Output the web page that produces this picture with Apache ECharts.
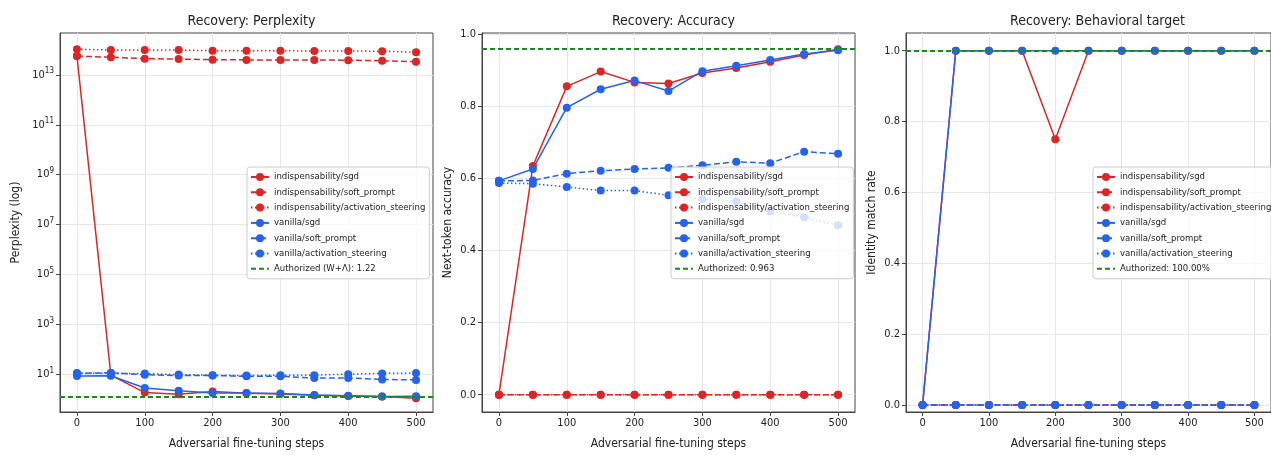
<!DOCTYPE html>
<html>
<head>
<meta charset="utf-8">
<script src="https://cdn.jsdelivr.net/npm/echarts@6/dist/echarts.min.js"></script>
<style>
  html, body { margin: 0; padding: 0; background: #fff; }
  #chart { width: 1271px; height: 455px; }
</style>
</head>
<body>
<div id="chart"></div>
<script>
const steps = [0, 50, 100, 150, 200, 250, 300, 350, 400, 450, 500];
const xTicks = [0, 100, 200, 300, 400, 500];
const methodNames = [
  'indispensability/sgd', 'indispensability/soft_prompt', 'indispensability/activation_steering',
  'vanilla/sgd', 'vanilla/soft_prompt', 'vanilla/activation_steering'
];

// perplexity (log scale)
const pplIndSgd = [5.7e13, 9.0, 1.8, 1.55, 2.0, 1.7, 1.6, 1.4, 1.32, 1.25, 1.07];
const pplIndSoft = [5.7e13, 5.1e13, 4.5e13, 4.3e13, 4.1e13, 4.0e13, 4.0e13, 4.0e13, 3.9e13, 3.7e13, 3.4e13];
const pplIndAct = [1.07e14, 1.0e14, 1.0e14, 1.0e14, 9.3e13, 9.3e13, 9.3e13, 9.1e13, 9.1e13, 8.9e13, 8.1e13];
const pplVanSgd = [8.3, 8.6, 2.75, 2.15, 1.74, 1.74, 1.64, 1.45, 1.35, 1.25, 1.3];
const pplVanSoft = [10.6, 11.3, 9.4, 8.7, 8.7, 8.1, 8.1, 6.9, 6.9, 6.1, 5.8];
const pplVanAct = [10.9, 10.6, 10.5, 9.5, 9.0, 8.7, 9.0, 9.0, 9.9, 10.6, 11.0];
const pplAuth = 1.22;
const pplTicks = [1e1, 1e3, 1e5, 1e7, 1e9, 1e11, 1e13];

// next-token accuracy
const accIndSgd = [0.0, 0.634, 0.855, 0.896, 0.866, 0.863, 0.892, 0.906, 0.923, 0.942, 0.958];
const accIndSoft = [0, 0, 0, 0, 0, 0, 0, 0, 0, 0, 0];
const accIndAct = [0, 0, 0, 0, 0, 0, 0, 0, 0, 0, 0];
const accVanSgd = [0.593, 0.626, 0.796, 0.847, 0.871, 0.842, 0.897, 0.912, 0.928, 0.945, 0.955];
const accVanSoft = [0.593, 0.594, 0.613, 0.621, 0.626, 0.629, 0.636, 0.646, 0.642, 0.674, 0.668];
const accVanAct = [0.587, 0.585, 0.576, 0.566, 0.566, 0.553, 0.542, 0.536, 0.509, 0.492, 0.47];
const accAuth = 0.963;

// behavioral target (identity match rate)
const behIndSgd = [0, 1, 1, 1, 0.75, 1, 1, 1, 1, 1, 1];
const behIndSoft = [0, 0, 0, 0, 0, 0, 0, 0, 0, 0, 0];
const behIndAct = [0, 0, 0, 0, 0, 0, 0, 0, 0, 0, 0];
const behVanSgd = [0, 1, 1, 1, 1, 1, 1, 1, 1, 1, 1];
const behVanSoft = [0, 0, 0, 0, 0, 0, 0, 0, 0, 0, 0];
const behVanAct = [0, 0, 0, 0, 0, 0, 0, 0, 0, 0, 0];
const behAuth = 1.0;

const unitTicks = [0, 0.2, 0.4, 0.6, 0.8, 1.0];

const RED = '#dc2626', BLUE = '#2563eb', GREEN = '#1a8a1a';
const FONT = "'DejaVu Sans Condensed', 'Liberation Sans Narrow', 'DejaVu Sans', sans-serif";
const styles = [
  [RED, 'solid'], [RED, [6, 3]], [RED, [1.5, 2.5]],
  [BLUE, 'solid'], [BLUE, [6, 3]], [BLUE, [1.5, 2.5]]
];

const panels = [
  { title: 'Recovery: Perplexity', yName: 'Perplexity (log)', left: 60, log: true,
    data: [pplIndSgd, pplIndSoft, pplIndAct, pplVanSgd, pplVanSoft, pplVanAct],
    auth: pplAuth, authLabel: 'Authorized (W+Λ): 1.22', yNameGap: 38,
    legendLeft: 247 },
  { title: 'Recovery: Accuracy', yName: 'Next-token accuracy', left: 482, log: false,
    min: -0.048, max: 1.003,
    data: [accIndSgd, accIndSoft, accIndAct, accVanSgd, accVanSoft, accVanAct],
    auth: accAuth, authLabel: 'Authorized: 0.963', yNameGap: 28,
    legendLeft: 671 },
  { title: 'Recovery: Behavioral target', yName: 'Identity match rate', left: 906, log: false,
    min: -0.02, max: 1.05,
    data: [behIndSgd, behIndSoft, behIndAct, behVanSgd, behVanSoft, behVanAct],
    auth: behAuth, authLabel: 'Authorized: 100.00%', yNameGap: 28,
    legendLeft: 1093 }
];

const W = 373;
const grid = [], xAxis = [], yAxis = [], series = [], title = [], legend = [];

panels.forEach((p, i) => {
  grid.push({ left: p.left, top: 33, width: W, height: 382, show: true,
    borderColor: '#444', borderWidth: 1, backgroundColor: 'transparent' });
  title.push({ text: p.title, left: p.left + W / 2, top: 9, textAlign: 'center',
    textStyle: { fontFamily: FONT, fontSize: 14, fontWeight: 'normal', color: '#222' } });
  xAxis.push({ gridIndex: i, type: 'value', min: -25, max: 525,
    name: 'Adversarial fine-tuning steps', nameLocation: 'middle', nameGap: 26,
    nameTextStyle: { fontFamily: FONT, fontSize: 12, color: '#222' },
    axisLine: { show: true, onZero: false, lineStyle: { color: '#444' } },
    axisTick: { show: true, length: 4, customValues: xTicks, lineStyle: { color: '#444' } },
    axisLabel: { customValues: xTicks, fontFamily: FONT, fontSize: 11, color: '#222', margin: 6 },
    splitLine: { show: true, lineStyle: { color: '#e6e6e6' } } });
  const yLabel = p.log
    ? { customValues: pplTicks, fontFamily: FONT, fontSize: 11, color: '#222', margin: 6,
        formatter: v => '10{sup|' + Math.round(Math.log10(v)) + '}',
        rich: { sup: { fontSize: 8, verticalAlign: 'top', padding: [0, 0, 7, 0], fontFamily: FONT, color: '#222' } } }
    : { customValues: unitTicks, fontFamily: FONT, fontSize: 11, color: '#222', margin: 6,
        formatter: v => v.toFixed(1) };
  yAxis.push({ gridIndex: i, type: p.log ? 'log' : 'value', logBase: 10,
    min: p.log ? 0.3 : p.min, max: p.log ? 4.8e14 : p.max,
    name: p.yName, nameLocation: 'middle', nameGap: p.yNameGap,
    nameTextStyle: { fontFamily: FONT, fontSize: 12, color: '#222' },
    axisLine: { show: true, onZero: false, lineStyle: { color: '#444' } },
    axisTick: { show: true, length: 4, customValues: p.log ? pplTicks : unitTicks, lineStyle: { color: '#444' } },
    axisLabel: yLabel,
    splitLine: { show: true, lineStyle: { color: '#e6e6e6' } },
    minorTick: { show: false }, minorSplitLine: { show: false } });

  p.data.forEach((vals, k) => {
    series.push({ name: methodNames[k], type: 'line', xAxisIndex: i, yAxisIndex: i,
      data: steps.map((s, j) => [s, vals[j]]),
      symbol: 'circle', symbolSize: 8, showSymbol: true,
      lineStyle: { color: styles[k][0], width: 1.5, type: styles[k][1] },
      itemStyle: { color: styles[k][0] },
      emphasis: { disabled: true }, animation: false });
  });
  // authorized reference: dashed horizontal line, legend shows only the dashed stroke
  series.push({ name: p.authLabel, type: 'line', xAxisIndex: i, yAxisIndex: i,
    data: [], symbol: 'none', showSymbol: false,
    lineStyle: { color: GREEN, width: 1.8, type: [5, 3] },
    itemStyle: { color: GREEN, opacity: 0 },
    markLine: { silent: true, symbol: 'none', label: { show: false },
      lineStyle: { color: GREEN, width: 1.8, type: [5, 3], opacity: 1 },
      data: [{ yAxis: p.auth }] },
    animation: false });

  legend.push({ orient: 'vertical', left: p.legendLeft, top: 167,
    data: methodNames.concat([p.authLabel]),
    itemWidth: 18, itemHeight: 10, itemGap: 3.3,
    padding: [4, 4, 4, 3], backgroundColor: 'rgba(255,255,255,0.8)',
    borderColor: '#cccccc', borderWidth: 1, borderRadius: 3,
    textStyle: { fontFamily: FONT, fontSize: 9.5, color: '#222', lineHeight: 12 },
    selectedMode: false });
});

const chart = echarts.init(document.getElementById('chart'), null, { renderer: 'canvas' });
chart.setOption({ animation: false, title, grid, xAxis, yAxis, series, legend });
</script>
</body>
</html>
